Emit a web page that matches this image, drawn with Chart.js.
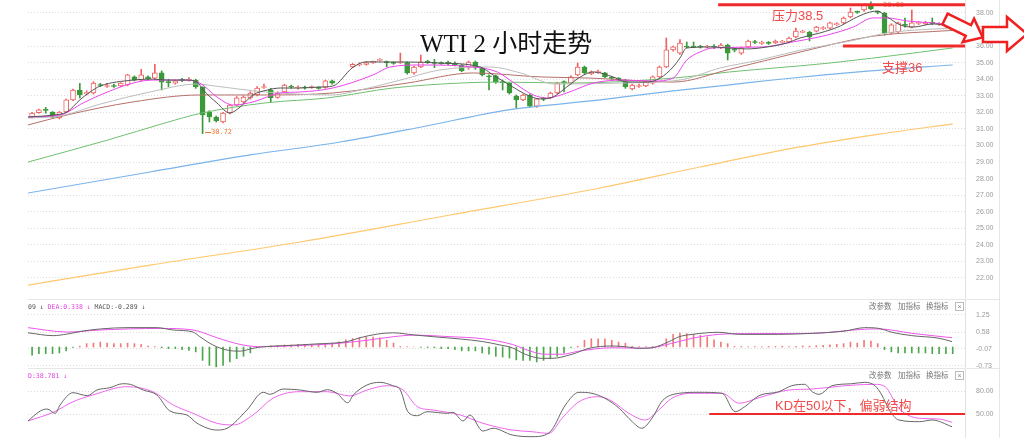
<!DOCTYPE html>
<html><head><meta charset="utf-8">
<script src="https://cdn.jsdelivr.net/npm/chart.js"></script>
<style>
html,body{margin:0;padding:0;background:#fff;}
#wrap{position:relative;width:1024px;height:438px;overflow:hidden;background:#fff;font-family:"Liberation Sans","Noto Sans CJK SC",sans-serif;}
canvas{position:absolute;left:0;z-index:1;}
.t{position:absolute;white-space:nowrap;line-height:1;z-index:2;}
.ln{position:absolute;z-index:0;}
</style></head><body>
<div id="wrap">
  <div class="ln" style="left:965px;top:0;width:1px;height:438px;background:#e2e2e2"></div>
  <div class="ln" style="left:999px;top:0;width:1px;height:438px;background:#e6e6e6"></div>
  <div class="ln" style="left:28px;top:299px;width:972px;height:1px;background:#e6e6e6"></div>
  <div class="ln" style="left:28px;top:368px;width:972px;height:1px;background:#e6e6e6"></div>
  <div class="t" style="left:883px;top:1px;font:7px 'DejaVu Sans Mono';color:#f08040;z-index:0">38.68</div>

  <canvas id="cMain" width="1024" height="296" style="top:0"></canvas>
  <canvas id="cMacd" width="1024" height="76" style="top:298px"></canvas>
  <canvas id="cKd" width="1024" height="69" style="top:369px"></canvas>

  <div class="t" style="left:420px;top:31px;font-size:25px;font-family:'Liberation Serif','Noto Sans CJK SC',serif;color:#111">WTI 2 小时走势</div>
  <div class="t" style="left:772px;top:9px;font-size:13px;color:#f04a4a">压力38.5</div>
  <div class="t" style="left:882px;top:61px;font-size:13px;color:#f04a4a">支撑36</div>
  <div class="t" style="left:775px;top:399px;font-size:13px;color:#f04a4a">KD在50以下，偏弱结构</div>
  <div class="ln" style="left:205px;top:132px;width:6px;height:1px;background:#f07830;z-index:2"></div>
  <div class="t" style="left:211px;top:128px;font:7px 'DejaVu Sans Mono';color:#f07830">30.72</div>

  <div class="t" style="left:28px;top:303px;font:6.5px 'DejaVu Sans Mono';color:#555">09 ↓ <span style="color:#e040e0">DEA:0.338 ↓</span> MACD:-0.289 ↓</div>
  <div class="t" style="left:28px;top:372px;font:6.5px 'DejaVu Sans Mono';color:#e040e0">D:38.781 ↓</div>

  <div class="t" style="left:869px;top:303px;font-size:7.5px;color:#777">改参数</div>
  <div class="t" style="left:898px;top:303px;font-size:7.5px;color:#777">加指标</div>
  <div class="t" style="left:926px;top:303px;font-size:7.5px;color:#777">换指标</div>
  <div class="t" style="left:955px;top:302px;width:7px;height:7px;border:1px solid #bbb;font-size:7px;color:#888;text-align:center">×</div>
  <div class="t" style="left:869px;top:372px;font-size:7.5px;color:#777">改参数</div>
  <div class="t" style="left:898px;top:372px;font-size:7.5px;color:#777">加指标</div>
  <div class="t" style="left:926px;top:372px;font-size:7.5px;color:#777">换指标</div>
  <div class="t" style="left:955px;top:371px;width:7px;height:7px;border:1px solid #bbb;font-size:7px;color:#888;text-align:center">×</div>

  <svg style="position:absolute;left:0;top:0;z-index:3" width="1024" height="70">
    <g transform="translate(945,19) rotate(26)">
      <polygon points="0,-6 26,-6 26,-13 42,0 26,13 26,6 0,6" fill="#fff" stroke="#f02020" stroke-width="2.5" stroke-linejoin="miter"/>
    </g>
    <polygon points="983,27 1007,27 1007,17 1027,34 1007,51 1007,42 983,42" fill="#fff" stroke="#f02020" stroke-width="2.5"/>
  </svg>
</div>
<script>
// ---------- data ----------
const openP = [31.72,31.98,32.16,32.02,31.66,32.02,32.75,33.35,33.12,33.17,
 33.68,33.56,33.62,33.59,33.65,34.14,33.95,34.14,34.07,34.38,
 33.85,33.77,33.97,33.93,33.95,33.53,32.02,31.72,31.42,31.96,
 32.44,32.63,32.87,33.05,33.50,33.35,32.90,33.23,33.56,33.47,
 33.50,33.50,33.50,33.50,33.90,null,null,34.74,34.86,34.90,
 34.98,35.14,35.06,35.00,34.98,35.00,34.38,34.74,35.06,35.00,
 34.98,35.02,34.98,34.86,34.68,35.04,34.68,34.20,34.20,33.85,
 33.77,32.99,32.75,33.05,32.38,32.83,32.87,33.17,33.85,33.77,
 34.26,34.74,34.32,34.40,34.38,34.10,34.07,33.95,33.41,33.56,
 33.59,33.77,34.14,34.74,35.77,35.58,35.98,35.97,35.97,35.93,
 35.98,35.89,36.07,35.80,35.58,35.95,36.27,36.17,36.22,36.19,
 36.23,36.25,36.55,36.83,36.85,36.91,37.06,37.09,37.30,37.40,
 37.76,38.08,38.18,38.42,38.08,38.00,36.79,36.85,37.30,37.15,
 37.37,37.36,37.42,37.31,37.30,37.20];
const highP = [32.00,32.20,32.30,32.05,32.05,32.80,33.40,33.75,33.30,33.85,
 33.75,33.75,33.70,33.80,34.30,34.20,34.60,34.20,34.90,34.50,
 34.00,33.95,34.05,34.10,34.00,33.55,32.10,31.78,32.00,32.50,
 32.95,33.00,33.25,33.55,33.70,33.45,33.25,33.70,33.65,33.60,
 33.58,33.60,33.55,33.95,33.95,null,null,34.95,35.00,35.05,
 35.10,35.25,35.10,35.05,35.58,35.05,34.80,35.46,35.15,35.20,
 35.05,35.10,35.05,34.90,35.10,35.10,34.72,34.26,34.25,33.95,
 33.80,33.05,33.10,33.10,32.85,32.90,33.22,33.82,33.90,34.20,
 34.98,34.80,34.50,34.55,34.42,34.15,34.10,34.00,33.70,33.70,
 33.90,34.20,34.80,36.49,36.00,36.40,36.25,36.25,36.05,36.05,
 36.10,36.15,36.12,35.85,35.95,36.37,36.35,36.30,36.28,36.37,
 36.35,36.55,37.09,36.95,36.90,37.20,37.18,37.45,37.42,37.76,
 38.30,38.12,38.55,38.68,38.12,38.05,37.35,37.45,37.70,38.18,
 37.50,37.50,37.70,37.42,37.35,37.30];
const lowP = [31.66,31.95,31.95,31.66,31.60,31.98,32.70,32.87,33.05,33.10,
 33.55,33.50,33.50,33.55,33.60,33.90,33.90,33.95,34.00,33.35,
 33.55,33.70,33.85,33.88,33.45,30.72,31.42,31.42,31.36,31.90,
 32.40,32.55,32.80,33.00,33.45,32.60,32.85,33.20,33.45,33.40,
 33.40,33.45,33.40,33.45,33.70,null,null,34.70,34.80,34.85,
 34.95,35.10,34.75,34.90,34.95,34.30,34.30,34.70,34.95,34.70,
 34.90,34.88,34.80,34.45,34.60,34.60,34.20,33.35,33.75,33.35,
 33.10,32.26,32.70,32.30,32.30,32.70,32.82,33.12,33.23,33.70,
 34.20,34.30,34.28,34.35,34.10,34.00,33.90,33.45,33.35,33.50,
 33.55,33.70,34.10,34.70,35.70,35.50,35.90,35.90,35.88,35.88,
 35.85,35.85,35.16,35.65,35.50,35.90,36.15,36.10,36.10,36.15,
 36.20,36.20,36.50,36.80,36.31,36.85,37.00,37.05,37.25,37.35,
 37.70,37.98,38.10,38.20,37.95,36.67,36.72,36.80,37.15,37.10,
 37.30,37.30,37.30,37.25,37.15,37.15];
const closeP = [31.96,32.15,32.12,31.72,32.02,32.75,33.35,33.05,33.20,33.77,
 33.62,33.62,33.56,33.77,34.26,33.95,34.26,34.02,34.38,33.83,
 33.80,33.90,33.93,33.99,33.53,31.84,31.72,31.48,31.96,32.44,
 32.87,32.93,33.17,33.47,33.55,32.87,33.15,33.65,33.53,33.50,
 33.47,33.53,33.45,33.90,33.77,null,null,34.90,34.90,35.00,
 35.08,35.18,35.00,34.96,35.04,34.38,34.74,35.04,35.02,34.96,
 34.94,34.94,34.86,34.50,35.04,34.68,34.26,34.14,33.83,33.80,
 33.17,32.75,33.05,32.38,32.81,32.79,33.17,33.77,33.80,34.14,
 34.74,34.38,34.44,34.46,34.14,34.05,33.95,33.53,33.65,33.60,
 33.83,34.14,34.74,35.77,35.95,36.19,35.94,35.94,35.93,35.98,
 35.93,36.07,35.58,35.75,35.89,36.31,36.22,36.22,36.17,36.31,
 36.28,36.49,36.91,36.88,36.55,37.15,37.11,37.40,37.36,37.70,
 38.06,38.04,38.48,38.24,38.04,36.79,37.28,37.40,37.25,37.40,
 37.42,37.44,37.37,37.36,37.22,37.22];

// moving averages: [candle index, price]
const ma5 = [[-0.6,31.72],[3.1,31.84],[5.1,32.02],[7,32.75],[8.5,33.23],[10,33.59],[14.8,33.95],[17.7,34.01],[19.8,33.95],[22.7,33.95],[24.2,33.83],[25.1,33.35],[27.1,32.57],[29,31.96],[30.5,32.32],[32.4,33.05],[34.5,33.35],[36.4,33.47],[39.3,33.47],[42.2,33.53],[44.1,33.59],[47,34.7],[49,35.05],[51.5,35.04],[55,35.04],[59.8,34.98],[65.7,34.74],[67.6,34.26],[70.5,33.53],[72.6,33.05],[74.5,32.81],[76.4,32.93],[78.4,33.53],[80.4,34.14],[82.3,34.44],[85.2,34.14],[87.2,33.83],[90.2,33.83],[92.1,34.07],[94,34.74],[95,35.28],[96,35.89],[99.9,35.95],[101.9,35.89],[104.8,35.83],[107.8,35.95],[110.7,36.19],[112.6,36.49],[115.5,36.79],[118.5,37.21],[120.4,37.64],[122.4,38.0],[123.9,38.12],[125.4,37.76],[127.3,37.28],[129.2,37.15],[132.1,37.34],[135,37.21]];
const ma10 = [[-0.6,31.72],[4.1,31.84],[7.5,32.57],[10,33.05],[14.8,33.77],[17.7,33.95],[22.7,33.95],[24.6,33.77],[27.1,32.93],[29.5,32.44],[32.4,32.63],[36.4,33.17],[39.3,33.23],[44.1,33.47],[50,34.26],[52.5,34.74],[56.9,34.86],[64.7,34.74],[68.2,34.44],[70.5,33.83],[73.5,33.05],[75.5,32.87],[78.4,33.17],[82.3,33.77],[86.7,33.95],[91.1,33.89],[94,34.07],[96,35.16],[97.9,35.64],[99.9,35.89],[107.2,35.95],[110.7,36.19],[116.6,36.67],[120.4,37.15],[123.3,37.7],[125.4,37.7],[128.3,37.52],[132.1,37.4],[135,37.28]];
const ma20 = [[-0.6,31.66],[4.1,31.78],[10,32.5],[17.3,33.23],[24.2,33.71],[26.8,33.59],[34.2,33.23],[44.1,33.05],[48.1,33.35],[54,33.95],[59.8,34.56],[67.2,34.74],[71.6,34.38],[76.7,33.71],[86.2,33.77],[95,33.95],[100.9,34.68],[106.7,35.16],[112.6,35.75],[119.9,36.3],[125.8,36.82],[135,37.1]];
const ma30 = [[-0.6,31.24],[5.1,31.84],[14.8,32.63],[24.6,33.05],[34.5,33.05],[44.1,33.17],[55,33.77],[64.7,34.38],[74.5,34.14],[81.8,34.07],[94,33.83],[102.3,34.6],[112.2,35.6],[123.3,36.6],[135,36.95]];
const ma60 = [[-0.6,29.0],[11.1,30.33],[19.5,31.36],[24.9,31.96],[34.2,32.57],[43.3,32.87],[52.9,33.47],[62.8,33.77],[68.6,33.83],[78.9,33.77],[94,34.07],[102.3,34.44],[117,34.98],[129.2,35.58],[135,35.89]];
const ma120 = [[-0.6,27.13],[17.3,28.4],[32,29.43],[45.2,30.21],[56.9,31.1],[69.6,32.14],[83.3,32.75],[94,33.3],[102,33.65],[109.7,34.0],[122.9,34.5],[135,34.86]];
const ma250 = [[-0.6,21.57],[17.3,22.78],[39.3,24.17],[61.3,25.8],[83.3,27.43],[97.9,28.7],[112.6,29.91],[124.3,30.69],[135,31.3]];
const resistance = [[100.6,38.5],[136.8,38.5]];
const support = [[118.9,36.0],[136.8,36.0]];
const mainTicks = [22,23,24,25,26,27,28,29,30,31,32,33,34,35,36,37,38];

// MACD
const dif = [[-0.6,0.55],[3.1,0.44],[5.1,0.50],[7.5,0.62],[10,0.70],[13.9,0.75],[18.3,0.75],[20.7,0.66],[23.6,0.58],[24.6,0.40],[26.5,0.08],[28.6,-0.12],[30.5,-0.16],[32.4,-0.05],[33.9,0.01],[36.8,0.05],[41.8,0.12],[46.2,0.21],[48.1,0.36],[50.6,0.50],[52.9,0.55],[55.9,0.47],[58.8,0.40],[62.8,0.31],[66.1,0.21],[68.6,0.08],[70.4,-0.03],[72.3,-0.28],[74.8,-0.44],[76.2,-0.44],[79.2,-0.28],[81.7,-0.05],[85,0.04],[87,0.01],[89,-0.05],[90.9,-0.03],[93.4,0.21],[94.9,0.40],[96.8,0.49],[100.7,0.57],[103.7,0.49],[109.5,0.49],[114.4,0.53],[119.2,0.62],[122.1,0.75],[124.2,0.72],[126.1,0.57],[129,0.44],[133,0.34],[134.9,0.21]];
const dea = [[-0.6,0.75],[5.1,0.58],[10,0.66],[18.8,0.72],[23.6,0.66],[27.1,0.36],[30.5,0.10],[33.4,0.01],[39.3,0.06],[44,0.12],[49.1,0.26],[53,0.40],[56,0.46],[61.3,0.40],[66.1,0.32],[70.4,0.10],[73.3,-0.18],[75.2,-0.28],[77.7,-0.28],[80.2,-0.16],[85,-0.03],[89.9,-0.05],[93.8,0.14],[96.8,0.34],[100.7,0.49],[104.5,0.52],[114.4,0.53],[122.1,0.69],[124.2,0.70],[129,0.53],[134.9,0.36]];
const macdHist = [
-0.32,-0.26,-0.26,-0.26,-0.23,-0.15,-0.02,0.03,0.13,0.15,
0.19,0.15,0.13,0.13,0.15,0.13,0.10,0.04,0.02,-0.03,
-0.06,-0.06,-0.10,-0.13,-0.19,-0.52,-0.71,-0.77,-0.71,-0.58,
-0.45,-0.36,-0.23,-0.03,0.02,0.05,0.06,0.08,0.08,0.10,
0.10,0.10,0.12,0.13,0.15,0.20,0.28,0.33,0.36,0.38,
0.38,0.36,0.26,0.15,0.02,0.01,0.00,-0.01,-0.02,-0.03,
-0.06,-0.06,-0.10,-0.15,-0.15,-0.15,-0.23,-0.28,-0.36,-0.39,
-0.43,-0.50,-0.52,-0.52,-0.58,-0.52,-0.45,-0.36,-0.23,-0.02,
0.03,0.26,0.32,0.32,0.32,0.26,0.19,0.15,0.03,0.02,
0.02,0.02,0.05,0.32,0.49,0.54,0.52,0.49,0.45,0.39,
0.28,0.19,0.13,0.02,0.02,0.01,0.02,0.01,0.02,0.02,
0.03,0.02,0.03,0.04,0.03,0.05,0.06,0.08,0.10,0.13,
0.19,0.15,0.26,0.23,0.13,-0.10,-0.19,-0.23,-0.23,-0.23,
-0.23,-0.23,-0.26,-0.26,-0.26,-0.26];
const macdTicks = [1.25,0.58,-0.07,-0.73];

// KD
const kLine = [[-0.6,40.9],[1.2,53.9],[2.2,56.5],[3.4,50.9],[4.1,61.7],[6,77.8],[8.1,73.9],[9.5,81.3],[11.4,84.3],[13.3,89.5],[14.4,88.7],[16.3,81.3],[18.3,74.8],[20.2,53.9],[22.7,48.7],[24.2,37.9],[27.1,29.1],[28.6,31.4],[31.5,55.2],[33.9,78.3],[34.9,75.7],[36.8,82.6],[39.3,81.3],[41.8,78.3],[43.3,81.7],[44.7,77.0],[46.3,64.7],[47.1,74.8],[49.1,87.8],[51,91.3],[52.9,86.9],[54,81.3],[55.1,53.0],[56.5,47.8],[57.9,53.0],[60.9,50.9],[61.7,52.2],[63.2,40.9],[64.2,48.7],[66.1,27.8],[67.6,31.4],[70.4,22.6],[73.3,20.4],[75.2,22.6],[76.2,29.1],[78.2,61.7],[80.2,78.3],[82.1,77.0],[84,70.5],[86.1,57.4],[88,40.0],[89.4,31.4],[90.9,44.4],[92.4,67.0],[94.9,77.0],[97.8,78.3],[101.2,77.0],[103.1,53.0],[104.5,59.5],[106.6,73.9],[109.5,79.1],[111.4,86.9],[113.3,88.7],[114.4,79.1],[115.4,75.7],[117.3,86.9],[120.2,89.5],[122.1,91.3],[123.6,86.9],[124.6,74.8],[125.7,55.2],[127.1,42.2],[130.1,40.0],[132,42.2],[134.9,33.4]];
const dLine = [[-0.6,40.9],[3.1,52.2],[6,66.0],[8.9,74.8],[13.9,85.6],[17.7,79.1],[20.7,61.7],[23.6,50.9],[27.1,37.9],[29.5,35.7],[32.4,48.7],[35.3,70.5],[39.3,79.1],[43.3,79.1],[46.6,73.5],[49.1,81.3],[52.1,86.9],[54.4,81.3],[56.5,59.5],[58.8,55.2],[62.8,48.7],[66.1,37.9],[70.4,29.1],[73.3,26.9],[75.8,24.8],[77.7,44.4],[80.2,66.0],[83.1,72.6],[85,67.0],[87.5,50.9],[89.9,42.2],[91.9,55.2],[93.8,70.5],[96.8,77.0],[101.2,77.0],[103.7,64.0],[106.6,71.3],[111,81.3],[114.4,82.6],[119.2,86.9],[123.6,88.7],[125.1,85.6],[127.1,57.4],[130.1,44.4],[133,43.5],[134.9,39.2]];
const kdLevel = [[99.3,50],[136.8,50]];
const kdTicks = [80,50];

// ---------- styling / build ----------
const RED = '#f06262', GREEN = '#3a9a3a';
const pts = a => a.map(([x, y]) => ({x, y}));
function line(data, color, w, order) {
  return {type:'line', data:pts(data), borderColor:color, borderWidth:w, pointRadius:0, fill:false,
          cubicInterpolationMode:'monotone', order:order};
}
function yAxis(min, max, ticks) {
  return {position:'right', min:min, max:max,
    afterBuildTicks: s => { s.ticks = ticks.map(v => ({value:v})); },
    afterFit: s => { s.width = 59; s.paddingTop = 0; s.paddingBottom = 0; },
    grid:{color:'#dcdcdc', drawTicks:false, lineWidth:1},
    border:{display:false, dash:[1,2]},
    ticks:{padding:11, color:'#9a9a9a', autoSkip:false, font:{family:'Liberation Sans', size:7},
           callback: v => Number(v).toFixed(2)}};
}
const xAxis = {type:'linear', min:-0.6, max:136.8, offset:false, display:false};
const common = {responsive:false, animation:false, devicePixelRatio:1, events:[],
  plugins:{legend:{display:false}, tooltip:{enabled:false}, title:{display:false}}};

const bodies = [], wicks = [], fillC = [], lineC = [];
for (let i = 0; i < openP.length; i++) {
  if (openP[i] == null) continue;
  const up = closeP[i] > openP[i];
  bodies.push({x:i, y:[openP[i], closeP[i]]});
  wicks.push({x:i, y:[lowP[i], highP[i]]});
  fillC.push(up ? '#ffffff' : GREEN);
  lineC.push(up ? RED : GREEN);
}

new Chart(document.getElementById('cMain'), {
  type:'bar',
  data:{datasets:[
    line(resistance, '#f02a2a', 3, 0),
    line(support, '#f02a2a', 3, 0),
    line(ma5, '#555555', 1, 1),
    line(ma10, '#ee44ee', 1, 2),
    line(ma20, '#bdbdbd', 1, 3),
    line(ma30, '#b5706a', 1, 4),
    line(ma60, '#70c070', 1, 5),
    line(ma120, '#7ab4ea', 1.2, 6),
    line(ma250, '#ffc870', 1.2, 7),
    {type:'bar', data:bodies, backgroundColor:fillC, borderColor:lineC, borderWidth:1, borderSkipped:false,
     barThickness:5, minBarLength:1, grouped:false, order:8},
    {type:'bar', data:wicks, backgroundColor:lineC, borderWidth:0, barThickness:1, grouped:false, order:9}
  ]},
  options:Object.assign({}, common, {
    layout:{padding:{left:28, right:0, top:0, bottom:0}},
    scales:{x:xAxis, y:yAxis(20.91, 38.785, mainTicks)}
  })
});

const histData = macdHist.map((v, i) => ({x:i, y:v}));
const histC = macdHist.map(v => v >= 0 ? '#f07a7a' : '#4aa84a');
new Chart(document.getElementById('cMacd'), {
  type:'bar',
  data:{datasets:[
    line(dif, '#666666', 1, 0),
    line(dea, '#ee55ee', 1, 1),
    {type:'bar', data:histData, backgroundColor:histC, borderWidth:0, barThickness:1, grouped:false, order:2}
  ]},
  options:Object.assign({}, common, {
    layout:{padding:{left:28, right:0, top:2, bottom:6}},
    scales:{x:xAxis, y:yAxis(-0.814, 1.822, macdTicks)}
  })
});

new Chart(document.getElementById('cKd'), {
  type:'line',
  data:{datasets:[
    line(kdLevel, '#f02a2a', 2, 0),
    line(kLine, '#666666', 1, 1),
    line(dLine, '#ee66ee', 1, 2)
  ]},
  options:Object.assign({}, common, {
    layout:{padding:{left:28, right:0, top:0, bottom:0}},
    scales:{x:xAxis, y:yAxis(18.7, 108.7, kdTicks)}
  })
});
</script>
</body></html>
